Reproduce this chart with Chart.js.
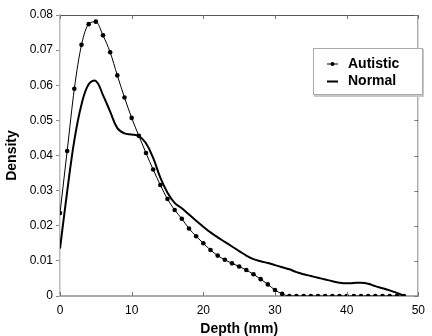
<!DOCTYPE html>
<html>
<head>
<meta charset="utf-8">
<script src="https://cdn.jsdelivr.net/npm/chart.js@4"></script>
<style>
  html, body { margin: 0; padding: 0; background: #fff; }
  #wrap { width: 432px; height: 336px; }
</style>
</head>
<body>
<div id="wrap"><canvas id="densityChart" width="432" height="336"></canvas></div>
<script>
// depth in mm
const depth = [
  0, 1, 2, 3, 4, 5, 6, 7, 8, 9, 10, 11, 12, 13, 14, 15, 16, 17, 18, 19, 20, 21, 22, 23, 24,
  25, 26, 27, 28, 29, 30, 31, 32, 33, 34, 35, 36, 37, 38, 39, 40, 41, 42, 43, 44, 45, 46, 47, 48,
];
const autistic = [
  0.0236, 0.0413, 0.059, 0.0715, 0.0774, 0.0781, 0.0742, 0.0694, 0.0628, 0.0565, 0.0507,
  0.0456, 0.0407, 0.036, 0.0316, 0.0276, 0.0245, 0.022, 0.0192, 0.017, 0.015, 0.0131,
  0.0115, 0.0103, 0.0093, 0.0084, 0.0074, 0.0062, 0.0048, 0.0033, 0.0017, 0.0006, 0,
  0, 0, 0, 0, 0, 0, 0, 0, 0, 0, 0, 0, 0, 0, 0, 0,
];
const normal = [
  0.0135, 0.0297, 0.0443, 0.0545, 0.0603, 0.0612, 0.0572, 0.0525, 0.0478, 0.0463, 0.046,
  0.0455, 0.0435, 0.0393, 0.0337, 0.0294, 0.0265, 0.025, 0.0232, 0.0214, 0.0197, 0.0181,
  0.0167, 0.0154, 0.0141, 0.0128, 0.0115, 0.0105, 0.0099, 0.0094, 0.0088, 0.0082, 0.0076,
  0.0068, 0.0062, 0.0057, 0.0052, 0.0047, 0.0042, 0.0038, 0.0036, 0.0037, 0.0038, 0.0035,
  0.0028, 0.0022, 0.0016, 0.0009, 0.0001,
];
const xTicks = [0, 10, 20, 30, 40, 50];
const yTicks = [0, 0.01, 0.02, 0.03, 0.04, 0.05, 0.06, 0.07, 0.08];

const FONT = "'Liberation Sans', Arial, sans-serif";

const toPoints = (ys) => depth.map((d, i) => ({ x: d, y: ys[i] }));

// frame on top/right, inward ticks, and the boxed legend inside the plot
const framePlugin = {
  id: "frame",
  afterDraw(chart) {
    const { ctx, chartArea, scales } = chart;
    const { left, right, top, bottom } = chartArea;
    ctx.save();
    ctx.lineWidth = 1;
    ctx.strokeStyle = "#555";
    ctx.beginPath();
    ctx.moveTo(left, top + 0.5);
    ctx.lineTo(right, top + 0.5);
    ctx.stroke();
    ctx.strokeStyle = "#888";
    ctx.beginPath();
    ctx.moveTo(right - 0.5, top);
    ctx.lineTo(right - 0.5, bottom);
    ctx.stroke();

    ctx.strokeStyle = "#777";
    xTicks.forEach((v) => {
      const px = Math.round(scales.x.getPixelForValue(v)) + 0.5;
      ctx.beginPath();
      ctx.moveTo(px, bottom);
      ctx.lineTo(px, bottom - 4);
      ctx.moveTo(px, top);
      ctx.lineTo(px, top + 4);
      ctx.stroke();
    });
    yTicks.forEach((v) => {
      const py = Math.round(scales.y.getPixelForValue(v)) + 0.5;
      ctx.beginPath();
      ctx.moveTo(right, py);
      ctx.lineTo(right - 4, py);
      ctx.stroke();
    });

    // legend box
    const bx = 313, by = 48, bw = 110, bh = 47;
    ctx.fillStyle = "#c8c8c8";
    ctx.fillRect(bx + 1, by + 1, bw, bh + 1);
    ctx.fillStyle = "#fff";
    ctx.fillRect(bx, by, bw, bh);
    ctx.strokeStyle = "#aaa";
    ctx.strokeRect(bx + 0.5, by + 0.5, bw - 1, bh - 1);

    ctx.font = "bold 14px " + FONT;
    ctx.textBaseline = "middle";
    ctx.fillStyle = "#000";
    ctx.strokeStyle = "#000";
    chart.data.datasets.forEach((ds, i) => {
      const ry = by + 16 + i * 17.5;
      ctx.lineWidth = ds.borderWidth;
      ctx.beginPath();
      ctx.moveTo(327, ry);
      ctx.lineTo(338, ry);
      ctx.stroke();
      if (ds.pointRadius > 0) {
        ctx.beginPath();
        ctx.arc(332.5, ry, 2, 0, Math.PI * 2);
        ctx.fill();
      }
      ctx.fillText(ds.label, 348, ry);
    });
    ctx.restore();
  },
};

new Chart(document.getElementById("densityChart"), {
  type: "line",
  data: {
    datasets: [
      {
        label: "Autistic",
        data: toPoints(autistic),
        borderColor: "#000",
        backgroundColor: "#000",
        borderWidth: 1,
        pointRadius: 2.3,
        pointBorderWidth: 0,
        cubicInterpolationMode: "monotone",
      },
      {
        label: "Normal",
        data: toPoints(normal),
        borderColor: "#000",
        backgroundColor: "#000",
        borderWidth: 2,
        pointRadius: 0,
        tension: 0.4,
      },
    ],
  },
  options: {
    responsive: false,
    animation: false,
    layout: { padding: { top: 15, right: 5, left: 0, bottom: 0 } },
    plugins: {
      legend: { display: false },
      tooltip: { enabled: false },
    },
    scales: {
      x: {
        type: "linear",
        min: 0,
        max: 50,
        afterFit: (s) => { s.height = 40; },
        afterBuildTicks: (s) => { s.ticks = xTicks.map((v) => ({ value: v })); },
        grid: { display: false, drawTicks: false },
        border: { display: true, color: "#aaa", width: 2 },
        ticks: { color: "#000", padding: 7, font: { family: FONT, size: 12 }, maxRotation: 0 },
        title: {
          display: true,
          text: "Depth (mm)",
          color: "#000",
          font: { family: FONT, size: 14, weight: "bold", lineHeight: 1 },
          padding: 0,
        },
      },
      y: {
        min: 0,
        max: 0.08,
        afterFit: (s) => { s.width = 60; },
        afterBuildTicks: (s) => { s.ticks = yTicks.map((v) => ({ value: v })); },
        grid: { display: true, drawOnChartArea: false, drawTicks: true, tickLength: 4, color: "#888" },
        border: { display: true, color: "#bbb", width: 1.5 },
        ticks: {
          color: "#000",
          padding: 3,
          font: { family: FONT, size: 12 },
          callback: (v) => (v === 0 ? "0" : v.toFixed(2)),
        },
        title: {
          display: true,
          text: "Density",
          color: "#000",
          font: { family: FONT, size: 14, weight: "bold", lineHeight: 1.2 },
          padding: { top: 4, bottom: 0 },
        },
      },
    },
  },
  plugins: [framePlugin],
});
</script>
</body>
</html>
